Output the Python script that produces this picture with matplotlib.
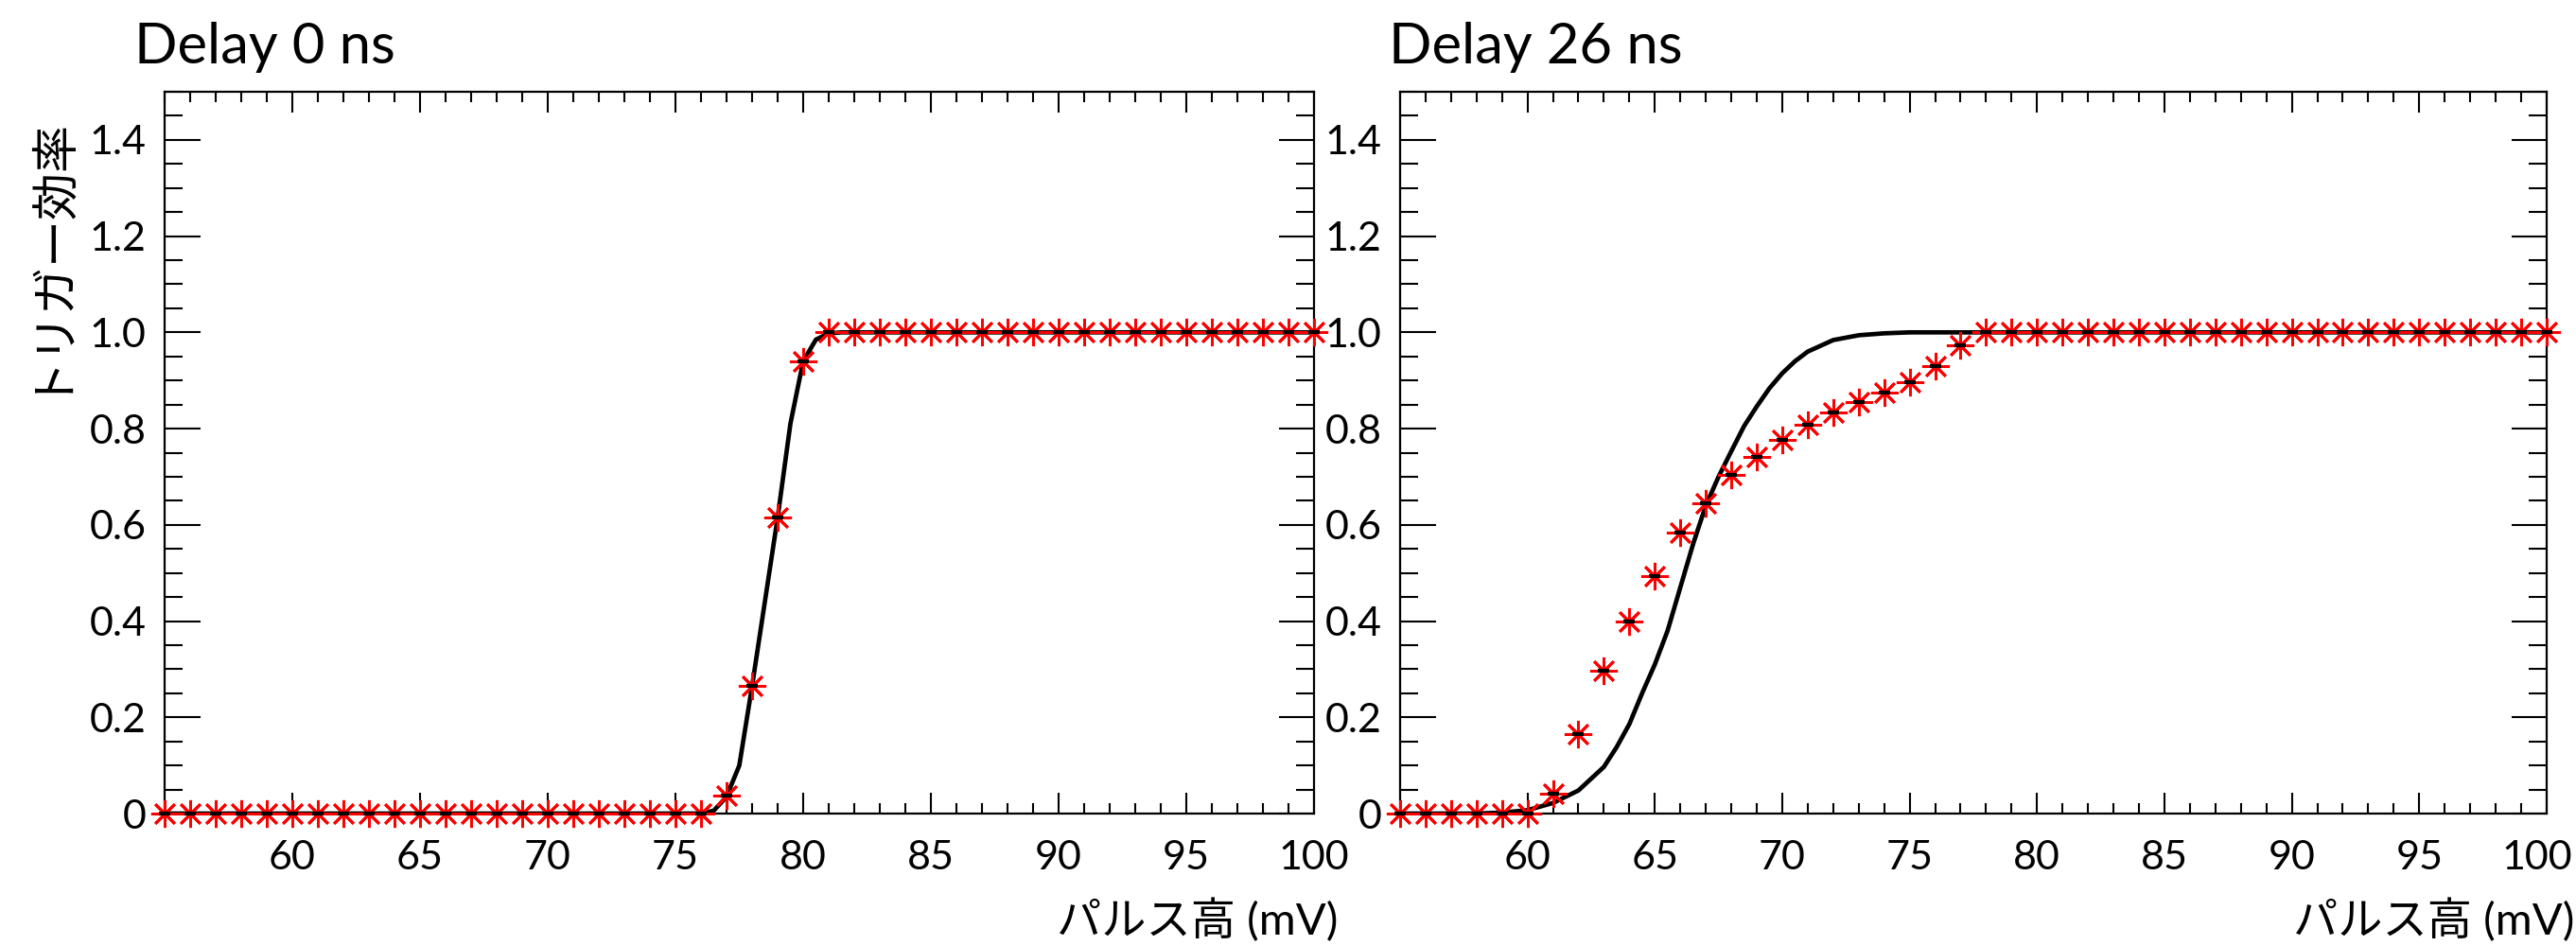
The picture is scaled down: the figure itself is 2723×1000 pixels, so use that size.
import numpy as np
import matplotlib
matplotlib.use("Agg")
import matplotlib.pyplot as plt
import matplotlib.transforms as mtransforms
from matplotlib.ticker import MultipleLocator, FixedLocator, FuncFormatter

plt.rcParams['font.family'] = ['Lato', 'Noto Sans CJK JP', 'DejaVu Sans']

# パルス高 (mV) の測定点
pulse_mv = list(range(55, 101))

# Delay 0 ns の効率
eff_delay0 = [0.0, 0.0, 0.0, 0.0, 0.0, 0.0, 0.0, 0.0, 0.0, 0.0,
              0.0, 0.0, 0.0, 0.0, 0.0, 0.0, 0.0, 0.0, 0.0, 0.0,
              0.0, 0.0, 0.038, 0.266, 0.615, 0.940, 1.0, 1.0, 1.0, 1.0,
              1.0, 1.0, 1.0, 1.0, 1.0, 1.0, 1.0, 1.0, 1.0, 1.0,
              1.0, 1.0, 1.0, 1.0, 1.0, 1.0]

# Delay 26 ns の効率
eff_delay26 = [0.0, 0.0, 0.0, 0.0, 0.0, 0.0, 0.041, 0.166, 0.296, 0.400,
               0.494, 0.584, 0.644, 0.703, 0.741, 0.776, 0.808, 0.834, 0.855, 0.875,
               0.896, 0.930, 0.973, 1.0, 1.0, 1.0, 1.0, 1.0, 1.0, 1.0,
               1.0, 1.0, 1.0, 1.0, 1.0, 1.0, 1.0, 1.0, 1.0, 1.0,
               1.0, 1.0, 1.0, 1.0, 1.0, 1.0]

# フィット曲線
fit0_x = [55, 76, 76.5, 77, 77.5, 78, 78.5, 79, 79.5, 80, 80.5, 81, 81.5, 100]
fit0_y = [0.0, 0.0, 0.006, 0.035, 0.10, 0.265, 0.44, 0.615, 0.81, 0.94, 0.985, 0.998, 1.0, 1.0]

fit26_x = [55, 58, 59, 60, 61, 62, 63, 63.5, 64, 64.5, 65, 65.5, 66, 66.5, 67, 67.5,
           68, 68.5, 69, 69.5, 70, 70.5, 71, 72, 73, 74, 75, 100]
fit26_y = [0.0, 0.0, 0.002, 0.007, 0.022, 0.048, 0.097, 0.138, 0.186, 0.25, 0.31, 0.38,
           0.47, 0.56, 0.64, 0.70, 0.753, 0.805, 0.846, 0.884, 0.915, 0.94, 0.96, 0.984,
           0.994, 0.998, 1.0, 1.0]

titles = ["Delay 0 ns", "Delay 26 ns"]
x_ticks = [60, 65, 70, 75, 80, 85, 90, 95, 100]
y_ticks = [0, 0.2, 0.4, 0.6, 0.8, 1.0, 1.2, 1.4]

fig = plt.figure(figsize=(27.23, 10), dpi=100)
ax0 = fig.add_axes([0.0639, 0.140, 0.4462, 0.763])
ax1 = fig.add_axes([0.5435, 0.140, 0.4451, 0.763])

star = (8, 2, 0)


def y_fmt(v, pos):
    if abs(v) < 1e-9:
        return "0"
    return f"{v:.1f}"


for ax, eff, fx, fy in [(ax0, eff_delay0, fit0_x, fit0_y),
                        (ax1, eff_delay26, fit26_x, fit26_y)]:
    ax.plot(fx, fy, color='black', lw=3.4, solid_joinstyle='round', zorder=3)
    ax.plot(pulse_mv, eff, linestyle='none', marker=star, markersize=21,
            markeredgewidth=2.0, color='red', clip_on=False, zorder=4)
    ax.plot(pulse_mv, eff, linestyle='none', marker='_', markersize=9,
            markeredgewidth=3, color='black', clip_on=False, zorder=5)

    ax.set_xlim(55, 100)
    ax.set_ylim(0, 1.5)
    ax.xaxis.set_major_locator(FixedLocator(x_ticks))
    ax.xaxis.set_minor_locator(MultipleLocator(1))
    ax.yaxis.set_major_locator(FixedLocator(y_ticks))
    ax.yaxis.set_minor_locator(MultipleLocator(0.05))
    ax.yaxis.set_major_formatter(FuncFormatter(y_fmt))

    ax.tick_params(axis='x', which='major', direction='in', length=16, width=1.5,
                   top=True, bottom=True, labelsize=31, pad=20)
    ax.tick_params(axis='x', which='minor', direction='in', length=8, width=1.5,
                   top=True, bottom=True)
    ax.tick_params(axis='y', which='major', direction='in', length=27, width=1.5,
                   left=True, right=True, labelsize=31, pad=14)
    ax.tick_params(axis='y', which='minor', direction='in', length=13.5, width=1.5,
                   left=True, right=True)
    for s in ax.spines.values():
        s.set_linewidth(1.6)

# 右端の「100」が画像の外にはみ出さないよう少し左へ寄せる
fig.canvas.draw()
last_lbl = ax1.get_xticklabels()[-1]
last_lbl.set_transform(last_lbl.get_transform() +
                       mtransforms.ScaledTranslation(-7 / 72, 0, fig.dpi_scale_trans))

fig.text(0.052, 0.933, titles[0], fontsize=43, ha='left', va='baseline')
fig.text(0.539, 0.933, titles[1], fontsize=43, ha='left', va='baseline')

fig.text(0.017, 0.735, "トリガー効率", fontsize=36, rotation=90,
         ha='center', va='center')
fig.text(0.5195, 0.027, "パルス高 (mV)", fontsize=34, ha='right', va='center')
fig.text(0.9995, 0.027, "パルス高 (mV)", fontsize=34, ha='right', va='center')

fig.savefig("out.png", dpi=100)
